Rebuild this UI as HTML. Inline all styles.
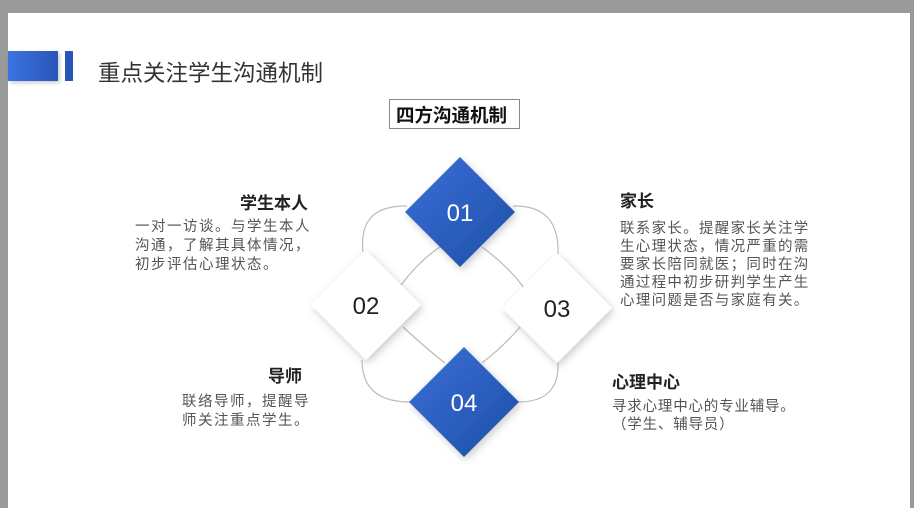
<!DOCTYPE html>
<html><head><meta charset="utf-8"><style>
body{margin:0;width:914px;height:508px;background:#9a9a9a;position:relative;overflow:hidden;font-family:"Liberation Sans","Noto Sans CJK SC",sans-serif;}
.page{position:absolute;left:8px;top:13px;width:902px;height:495px;background:#fff;}
.t{position:absolute;white-space:nowrap;color:#333;}
.h{font-weight:bold;font-size:17px;color:#222;}
.b{font-size:14.5px;line-height:19px;color:#555;letter-spacing:1.5px;}
</style></head><body>
<div class="page"></div>
<div style="position:absolute;left:8px;top:51px;width:50px;height:30px;background:linear-gradient(90deg,#3a74e0,#2a55b8);box-shadow:2px 2px 4px rgba(0,0,0,.2)"></div>
<div style="position:absolute;left:65px;top:51px;width:8px;height:30px;background:#2a55b8"></div>
<div class="t" style="left:98px;top:56px;font-size:22.5px;color:#333">重点关注学生沟通机制</div>
<div style="position:absolute;left:389px;top:99px;width:129px;height:28px;border:1px solid #888;box-sizing:content-box"></div>
<div class="t" style="left:396px;top:102px;font-size:18.5px;font-weight:bold;color:#111">四方沟通机制</div>
<svg width="914" height="508" style="position:absolute;left:0;top:0">
<defs><linearGradient id="g" x1="0" y1="0" x2="1" y2="1"><stop offset="0" stop-color="#3a70d8"/><stop offset="1" stop-color="#1f4ea8"/></linearGradient>
<filter id="s" x="-30%" y="-30%" width="160%" height="160%"><feDropShadow dx="2" dy="3" stdDeviation="4" flood-opacity="0.2"/></filter></defs>
<g fill="none" stroke="#bbb" stroke-width="1.2">
<path d="M363 252 Q358 205 407 206"/><path d="M401 285 Q420 260 440 247"/>
<path d="M513 206 Q560 205 558 255"/><path d="M482 247 Q510 268 524 288"/>
<path d="M362 360 Q362 402 410 402"/><path d="M403 327 Q428 350 445 363"/>
<path d="M518 402 Q560 402 558 362"/><path d="M482 363 Q505 345 520 327"/>
</g>
<polygon points="366,250 421,305 366,360 311,305" fill="#fff" filter="url(#s)"/>
<polygon points="557,253 612,308 557,363 502,308" fill="#fff" filter="url(#s)"/>
<polygon points="460,157 515,212 460,267 405,212" fill="url(#g)" filter="url(#s)"/>
<polygon points="464,347 519,402 464,457 409,402" fill="url(#g)" filter="url(#s)"/>
<g font-family="Liberation Sans,sans-serif" font-size="24" text-anchor="middle">
<text x="460" y="221" fill="#fff">01</text>
<text x="366" y="314" fill="#222">02</text>
<text x="557" y="317" fill="#222">03</text>
<text x="464" y="411" fill="#fff">04</text>
</g>
</svg>
<div class="t h" style="right:606px;top:189px">学生本人</div>
<div class="t b" style="left:135px;top:218px">一对一访谈。与学生本人<br>沟通，了解其具体情况，<br>初步评估心理状态。</div>
<div class="t h" style="left:620px;top:187px">家长</div>
<div class="t b" style="left:620px;top:220px;line-height:18px;letter-spacing:1.3px">联系家长。提醒家长关注学<br>生心理状态，情况严重的需<br>要家长陪同就医；同时在沟<br>通过程中初步研判学生产生<br>心理问题是否与家庭有关。</div>
<div class="t h" style="right:612px;top:362px">导师</div>
<div class="t b" style="left:182px;top:393px">联络导师，提醒导<br>师关注重点学生。</div>
<div class="t h" style="left:612px;top:368px">心理中心</div>
<div class="t b" style="left:612px;top:398px;line-height:18px;letter-spacing:0.8px">寻求心理中心的专业辅导。<br>（学生、辅导员）</div>
</body></html>
